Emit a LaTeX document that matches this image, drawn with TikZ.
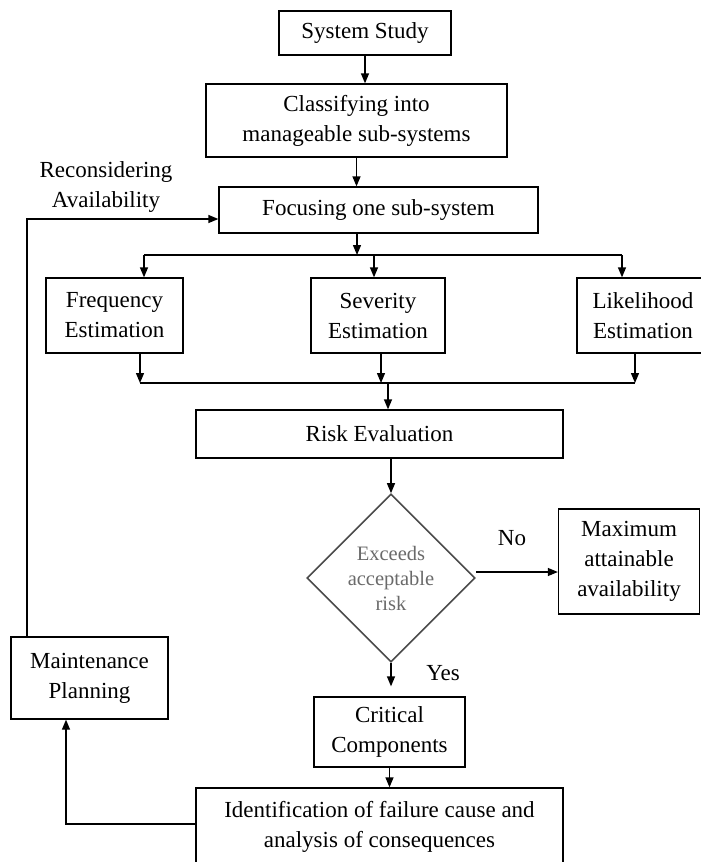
\documentclass[tikz,border=0pt]{standalone}
\usepackage{fontspec}
\setmainfont{Liberation Serif}
\usetikzlibrary{arrows.meta,shapes.geometric}
\definecolor{diagray}{HTML}{4A4A4A}
\definecolor{diatext}{HTML}{6A6A6A}
\begin{document}
\begin{tikzpicture}[x=1pt,y=-1pt,
  box/.style={draw, rectangle, line width=1.3pt, inner sep=0pt, align=center,
    font=\fontsize{23}{30}\selectfont},
  dia/.style={draw=diagray, diamond, line width=1.6pt, inner sep=0pt, aspect=1,
    minimum width=168pt, minimum height=168pt, align=center, text=diatext,
    font=\fontsize{20.5}{25}\selectfont},
  lbl/.style={align=center, font=\fontsize{23}{30}\selectfont, inner sep=0pt},
  ln/.style={line width=1.3pt},
  arr/.style={line width=1.3pt, -{Triangle[length=10pt,width=8pt]}}]
\useasboundingbox (0,0) rectangle (701,862);
\clip (0,0) rectangle (701,862);
\node[box, minimum width=172pt, minimum height=44pt] (ss) at (365,33) {System Study};
\node[box, minimum width=301pt, minimum height=73pt] (cls) at (356.5,120.5) {Classifying into\\manageable sub-systems};
\node[box, minimum width=319pt, minimum height=46pt] (foc) at (378.5,210) {Focusing one sub-system};
\node[box, minimum width=137pt, minimum height=75pt] (fre) at (114.5,315.5) {Frequency\\Estimation};
\node[box, minimum width=134pt, minimum height=75pt] (sev) at (378,315.5) {Severity\\Estimation};
\node[box, minimum width=132pt, minimum height=75pt] (lik) at (643,315.5) {Likelihood\\Estimation};
\node[box, minimum width=367pt, minimum height=48pt] (risk) at (379.5,434) {Risk Evaluation};
\node[dia] (ex) at (391,578) {Exceeds\\acceptable\\risk};
\node[box, minimum width=141pt, minimum height=105pt] (max) at (629,561.5) {Maximum\\attainable\\availability};
\node[box, minimum width=157pt, minimum height=82pt] (mp) at (89.5,678) {Maintenance\\Planning};
\node[box, minimum width=151pt, minimum height=70pt] (cc) at (389.5,732) {Critical\\Components};
\node[box, minimum width=367pt, minimum height=78pt] (idf) at (379.5,827) {Identification of failure cause and\\analysis of consequences};
\node[lbl] (rec) at (106,187) {Reconsidering\\Availability};
\node[lbl] (no) at (512,538) {No};
\node[lbl] (yes) at (443,673) {Yes};
% top chain
\draw[arr] (ss.south) -- (ss.south |- cls.north);
\draw[arr] (cls.south) -- (cls.south |- foc.north);
\coordinate (b1) at (357,255);
\draw[arr] (foc.south -| b1) -- (b1);
\coordinate (bl) at (144,255);
\coordinate (bm) at (374,255);
\coordinate (br) at (622,255);
\draw[ln] (bl) -- (br);
\draw[arr] (bl) -- (bl |- fre.north);
\draw[arr] (bm) -- (bm |- sev.north);
\draw[arr] (br) -- (br |- lik.north);
\coordinate (jl) at (140,383);
\coordinate (jm) at (381,383);
\coordinate (jr) at (635,383);
\draw[ln] (jl) -- (jr);
\draw[arr] (jl |- fre.south) -- (jl);
\draw[arr] (jm |- sev.south) -- (jm);
\draw[arr] (jr |- lik.south) -- (jr);
\coordinate (jc) at (388,383);
\draw[arr] (jc) -- (jc |- risk.north);
\draw[arr] (risk.south -| ex.north) -- (ex.north);
\coordinate (ne) at (476,572);
\draw[arr] (ne) -- (ne -| max.west);
\draw[arr, shorten >=10pt] (ex.south) -- (ex.south |- cc.north);
\draw[arr] (cc.south) -- (cc.south |- idf.north);
% feedback loop
\coordinate (lx) at (66,824);
\draw[arr] (idf.west |- lx) -| (lx |- mp.south);
\coordinate (fx) at (27,219);
\draw[arr] (fx |- mp.north) -- (fx) -- (fx -| foc.west);
\end{tikzpicture}
\end{document}
